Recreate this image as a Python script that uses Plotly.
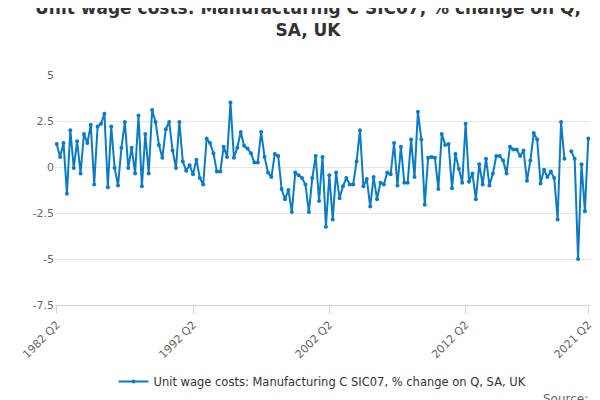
import plotly.graph_objects as go

start_year = 1982
start_quarter = 2
values = [
    1.25, 0.55, 1.3, -1.45, 2.0, -0.05, 1.4, -0.35, 1.8, 1.3,
    2.3, -0.95, 2.2, 2.35, 2.9, -1.1, 2.2, -0.05, -1.0, 1.05,
    2.45, -0.05, 1.05, -0.35, 2.8, -1.05, 1.8, -0.35, 3.1, 2.45,
    1.2, 0.5, 2.05, 2.45, 0.9, -0.05, 2.45, 0.3, -0.2, 0.1,
    -0.4, 0.4, -0.6, -0.95, 1.55, 1.3, 0.75, -0.25, -0.25, 1.1,
    0.55, 3.5, 0.5, 1.05, 1.9, 1.15, 1.0, 0.75, 0.25, 0.25,
    1.9, 0.55, -0.3, -0.55, 0.7, 0.6, -1.2, -1.75, -1.25, -2.45,
    -0.3, -0.45, -0.6, -0.95, -2.45, -0.6, 0.6, -1.85, 0.55, -3.25,
    -0.45, -2.85, -0.3, -1.7, -1.05, -0.6, -0.95, -0.95, 0.3, 2.0,
    -1.05, -0.65, -2.15, -0.55, -1.75, -0.85, -0.95, -0.3, -0.4, 1.3,
    -1.0, 1.1, -0.85, -0.85, 1.5, -0.55, 3.0, 1.5, -2.05, 0.5,
    0.55, 0.5, -1.2, 1.8, 1.2, 1.25, -1.15, 0.7, -0.1, -0.85,
    2.35, -0.8, -0.35, -1.75, 0.15, -0.95, 0.45, -1.0, -0.35, 0.6,
    0.6, 0.35, -0.35, 1.1, 0.95, 0.95, 0.6, 0.9, -0.75, 0.35,
    1.85, 1.5, -0.9, -0.15, -0.55, -0.25, -0.6, -2.85, 2.45, 0.45,
    None, 0.85, 0.45, -5.0, 0.15, -2.4, 1.55,
]
tick_labels = ["1982 Q2", "1992 Q2", "2002 Q2", "2012 Q2", "2021 Q2"]
y_ticks = [5, 2.5, 0, -2.5, -5, -7.5]
y_tick_text = ["5", "2.5", "0", "-2.5", "-5", "-7.5"]

quarters = []
for i in range(len(values)):
    q = start_quarter - 1 + i
    quarters.append(f"{start_year + q // 4} Q{q % 4 + 1}")

fig = go.Figure()
fig.add_trace(go.Scatter(
    x=quarters, y=values, mode="lines+markers",
    name="Unit wage costs: Manufacturing C SIC07, % change on Q, SA, UK",
    line=dict(color="#0a7bc4", width=2), marker=dict(size=4, color="#0a7bc4"),
    connectgaps=False,
))

fig.update_layout(
    width=600, height=400,
    paper_bgcolor="white", plot_bgcolor="white",
    font=dict(family="DejaVu Sans", color="#444"),
    title=dict(text="<b>Unit wage costs: Manufacturing C SIC07, % change on Q,</b><br><b>SA, UK</b>",
               x=0.5, xanchor="center", y=0.985, yanchor="top",
               font=dict(size=17, color="#333")),
    margin=dict(l=40, r=18, t=67, b=103),
    showlegend=True,
    legend=dict(orientation="h", x=0.5, xanchor="center", y=-0.27, yanchor="top",
                font=dict(size=11.5, color="#333")),
    xaxis=dict(type="category", tickmode="array", tickvals=tick_labels, ticktext=tick_labels,
               tickangle=-45, showgrid=False, showline=True, linecolor="#ccd6eb",
               ticks="outside", tickcolor="#ccd6eb", ticklen=8,
               tickfont=dict(size=11, color="#666"), range=[-0.5, len(values) - 0.5]),
    yaxis=dict(range=[-7.5, 5], tickvals=y_ticks, ticktext=y_tick_text,
               gridcolor="#e6e6e6", zeroline=False, tickfont=dict(size=11, color="#666")),
)
fig.add_annotation(text="Source:", xref="paper", yref="paper", x=1.0, y=-0.37,
                   xanchor="right", yanchor="top", showarrow=False,
                   font=dict(size=12, color="#666"))

fig.write_html("out.html")
